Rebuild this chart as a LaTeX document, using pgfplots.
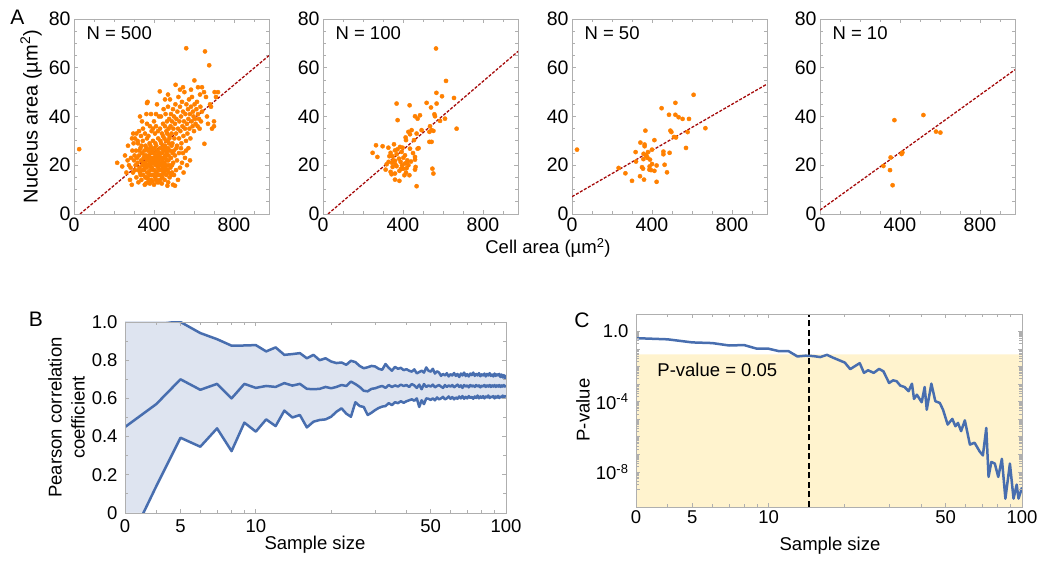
\documentclass[border=0pt]{standalone}
\usepackage{fontspec}
\setmainfont{Liberation Sans}
\usepackage{pgfplots}
\usepackage{pgfplotstable}
\pgfplotsset{compat=1.18}

\definecolor{dotorange}{RGB}{255,128,0}
\definecolor{fitred}{RGB}{165,10,10}
\definecolor{curveblue}{RGB}{72,110,175}
\definecolor{bandblue}{RGB}{222,228,240}
\definecolor{sigyellow}{RGB}{255,243,206}
\definecolor{framegray}{RGB}{175,175,175}

\newcommand{\tk}{\fontsize{19.5}{20}\selectfont}
\newcommand{\lb}{\fontsize{18.5}{23}\selectfont}

% Pearson r (median and band) against sample size
\pgfplotstableread{
n up mid lo
3 1.25 0.45 -0.20
4 1.02 0.57 0.14
5 1.00 0.70 0.394
6 0.942 0.645 0.347
7 0.91 0.676 0.443
8 0.876 0.60 0.324
9 0.877 0.676 0.473
10 0.879 0.655 0.426
11 0.846 0.665 0.49
12 0.867 0.66 0.455
13 0.828 0.68 0.536
14 0.832 0.667 0.50
15 0.837 0.676 0.513
16 0.81 0.65 0.448
17 0.828 0.648 0.478
18 0.80 0.65 0.487
19 0.81 0.66 0.49
20 0.793 0.653 0.504
21 0.785 0.66 0.53
22 0.788 0.67 0.548
23 0.776 0.665 0.52
24 0.797 0.688 0.504
25 0.79 0.675 0.58
26 0.77 0.66 0.56
27 0.758 0.64 0.555
28 0.763 0.637 0.513
29 0.77 0.65 0.525
30 0.767 0.653 0.539
31 0.755 0.66 0.55
32 0.75 0.665 0.557
33 0.78 0.655 0.56
34 0.76 0.67 0.575
35 0.745 0.66 0.565
36 0.765 0.668 0.58
37 0.755 0.662 0.575
38 0.76 0.672 0.585
39 0.748 0.665 0.577
40 0.753 0.67 0.585
41 0.745 0.66 0.59
42 0.74 0.675 0.595
43 0.752 0.668 0.588
44 0.731 0.655 0.60
45 0.738 0.672 0.555
46 0.745 0.648 0.59
47 0.735 0.675 0.57
48 0.762 0.66 0.60
49 0.745 0.668 0.598
50 0.74 0.662 0.592
51 0.755 0.672 0.60
52 0.73 0.658 0.59
53 0.742 0.665 0.605
54 0.735 0.67 0.595
55 0.718 0.662 0.60
56 0.728 0.655 0.608
57 0.72 0.67 0.595
58 0.732 0.66 0.60
59 0.715 0.668 0.61
60 0.727 0.662 0.598
61 0.72 0.67 0.607
62 0.733 0.658 0.595
63 0.718 0.665 0.605
64 0.728 0.672 0.598
65 0.712 0.66 0.61
66 0.73 0.668 0.60
67 0.72 0.655 0.612
68 0.735 0.67 0.598
69 0.717 0.662 0.608
70 0.727 0.668 0.60
71 0.715 0.658 0.612
72 0.73 0.67 0.602
73 0.722 0.662 0.608
74 0.735 0.668 0.598
75 0.718 0.66 0.61
76 0.728 0.67 0.602
77 0.72 0.662 0.615
78 0.732 0.668 0.60
79 0.716 0.658 0.61
80 0.726 0.667 0.603
81 0.72 0.662 0.612
82 0.73 0.67 0.60
83 0.715 0.66 0.61
84 0.728 0.668 0.605
85 0.72 0.662 0.615
86 0.732 0.67 0.602
87 0.718 0.66 0.61
88 0.725 0.668 0.605
89 0.715 0.662 0.612
90 0.73 0.67 0.60
91 0.718 0.66 0.61
92 0.726 0.668 0.604
93 0.72 0.662 0.613
94 0.728 0.67 0.602
95 0.712 0.66 0.61
96 0.725 0.668 0.606
97 0.71 0.662 0.615
98 0.722 0.67 0.604
99 0.706 0.662 0.612
100 0.722 0.668 0.607
}\pearson

% p-value against sample size
\pgfplotstableread{
n p
3 0.42
4 0.36
5 0.24
6 0.22
7 0.16
8 0.17
9 0.105
10 0.105
11 0.076
12 0.076
13 0.038
14 0.042
15 0.040
16 0.035
17 0.047
18 0.032
20 0.017
21 0.0072
22 0.011
22.9 0.0158
23.8 0.0044
24.7 0.0062
26.0 0.0044
27.3 0.0074
28.4 0.0054
29.9 0.00117
31.0 0.00166
32.0 0.00148
33.1 8.3e-4
34.4 6.9e-4
35.7 4.0e-4
36.8 1.07e-3
37.5 1.45e-4
38.5 2.5e-4
40.2 9.3e-5
41.3 6.9e-4
42.1 3.5e-5
43.9 1.07e-3
45.5 1.07e-4
47.4 8.5e-5
48.8 3.5e-5
50.9 5.0e-6
53.1 1.05e-5
54.6 4.0e-6
55.9 6.2e-6
57.5 2.1e-6
59.5 8.7e-6
62.3 3.6e-7
65.0 4.6e-7
68.0 1.5e-7
70.1 8.7e-8
72.3 3.2e-6
73.8 5.2e-9
75.7 3.7e-8
78.1 3.0e-8
80.6 5.2e-9
83.3 5.6e-8
86.0 3.0e-10
89.6 3.0e-8
92.6 3.0e-10
95.3 1.9e-9
96.9 3.0e-10
100 1.3e-9
}\pvalue

\pgfplotsset{
  boxed/.style={scale only axis, anchor=south west, tick align=inside,
    axis line style={framegray, line width=0.9pt},
    tick style={framegray, line width=0.8pt},
    major tick length=4pt, minor tick length=2.6pt,
    ticklabel style={text=black}},
  scat/.style={boxed, width=195pt, height=195pt,
    xmin=0, xmax=975, ymin=0, ymax=80,
    xtick={0,400,800}, xticklabels={0,400,800},
    minor xtick={100,200,300,500,600,700,900},
    ytick={0,20,40,60,80}, yticklabels={0,20,40,60,80},
    minor ytick={5,10,15,25,30,35,45,50,55,65,70,75},
    ticklabel style={font=\tk}},
  cellpts/.style={only marks, mark=*, mark size=2.1pt, color=dotorange},
  fit/.style={fitred, line width=1.3pt, dash pattern=on 3pt off 1.6pt},
  sizeaxis/.style={boxed, xmin=3, xmax=100,
    xtick={3,5,10,50,100}, xticklabels={0,5,10,50,100},
    minor xtick={4,6,7,8,9,20,30,40,60,70,80,90},
    ticklabel style={font=\lb},
    yticklabel style={xshift=-4pt}, axis on top},
}

\begin{document}
\begin{tikzpicture}
\path[use as bounding box] (0,0) rectangle (1050pt,561pt);

% ---------- A: N = 500 ----------
\begin{axis}[scat, at={(74pt,347pt)}]
\addplot[cellpts] coordinates {
(26,26.6) (561,68) (655,66.7) (676,61) (703,50) (602,54.8) (620,52) (508,53) (429,50.3) (365,45.5) (652,28.8)
(700,38) (690,35) (680,45) (665,40) (710,48) (720,50) (660,48) (650,50) (640,52) (630,49) (585,51) (545,52)
(470,49) (455,47) (530,51) (700,36) (685,44) (670,37)
(300,22) (305,18) (310,26) (312,15) (318,21) (320,29) (322,13) (325,24) (328,19) (330,17) (332,27) (335,22)
(337,14) (340,25) (342,20) (344,30) (346,16) (348,23) (350,18) (352,26) (354,12) (356,21) (358,28) (360,15)
(361,24) (363,19) (365,31) (366,17) (368,22) (370,26) (371,13) (373,20) (375,24) (376,16) (378,29) (380,21)
(381,18) (383,25) (385,14) (386,22) (388,27) (390,19) (391,23) (393,16) (395,30) (396,21) (398,25) (400,12)
(401,18) (403,27) (405,22) (406,15) (408,24) (410,20) (411,28) (413,17) (415,23) (416,13) (418,26) (420,19)
(421,31) (423,22) (425,16) (426,25) (428,20) (430,14) (431,27) (433,23) (435,18) (436,29) (438,21) (440,25)
(441,15) (443,19) (445,32) (446,23) (448,17) (450,26) (451,21) (453,14) (455,28) (456,24) (458,19) (460,30)
(461,16) (463,25) (465,22) (466,33) (468,18) (470,27) (471,13) (473,24) (475,29) (476,20) (478,15) (480,26)
(303,24) (308,20) (315,23) (323,18) (327,26) (333,16) (338,28) (343,18) (347,21) (353,24) (357,15) (362,27)
(367,20) (372,17) (377,23) (382,28) (387,16) (392,26) (397,18) (402,23) (407,29) (412,14) (417,21) (422,24)
(427,18) (432,30) (437,16) (442,22) (447,28) (452,18) (457,23) (462,20) (467,26) (472,22) (477,31) (482,19)
(485,23) (488,28) (490,17) (493,25) (496,21)
(384,19.5) (374,26.5) (364,22.5) (354,19.5) (394,13.5) (404,20.5) (414,25.5) (424,13) (434,20.5) (444,26.5)
(454,16.5) (464,18) (474,17) (359,12.5) (369,14.5) (379,12.5) (389,21) (399,16) (409,17.5) (419,16) (429,23.5)
(439,12.5) (449,20) (459,27)
(216,21) (241,19.5) (255,24) (262,17) (270,28) (275,20) (280,14) (285,23) (289,12) (292,26) (295,17) (298,29)
(283,19) (268,22) (290,31)
(430,35) (435,40) (440,33) (445,37) (448,43) (452,31) (455,36) (458,41) (462,34) (465,38) (468,30) (470,44)
(473,35) (476,39) (478,32) (480,47) (483,36) (485,41) (488,33) (490,38) (492,29) (495,43) (497,35) (500,40)
(502,31) (505,37) (507,45) (510,33) (512,39) (515,28) (517,42) (520,35) (522,48) (525,31) (527,38) (530,44)
(532,34) (535,40) (537,29) (540,46) (542,36) (545,42) (547,32) (550,38) (552,50) (555,35) (557,41) (560,30)
(562,45) (565,37) (567,33) (570,43) (572,39) (575,47) (577,35) (580,41) (582,31) (585,44) (588,38) (590,48)
(593,36) (595,42) (598,40) (600,34) (603,45) (605,39) (608,37) (612,43) (615,46) (618,36) (620,41) (625,39)
(628,35) (632,44) (635,38) (640,42)
(395,35) (400,38) (405,33) (410,36) (415,45) (420,34) (425,40) (388,34) (380,36) (372,32) (365,37) (355,33)
(345,35) (340,38) (362,41) (385,41) (410,41) (368,46) (335,32) (325,34) (318,30) (312,33) (305,31) (296,33) (330,40)
(490,20) (500,16) (505,24) (510,18) (515,22) (520,14) (530,19) (540,21) (548,17) (555,23) (565,20) (572,27)
(580,22) (495,12) (500,26) (512,27) (525,25) (535,27) (545,25) (560,26) (485,16) (505,11.6) (467,11.6)
};
\addplot[fit] coordinates {(30,0) (975,65)};
\node[anchor=west, font=\lb] at (axis cs:45,74.3) {N = 500};
\end{axis}

% ---------- A: N = 100 ----------
\begin{axis}[scat, at={(323pt,347pt)}]
\addplot[cellpts] coordinates {
(565,67.9) (615,54.6) (567,49.7) (595,48.3) (655,47.6) (668,35.0) (368,45.3) (433,44.6) (518,45.6) (540,43.7)
(568,45.3) (485,40.5) (460,40.1) (473,39.1) (557,40.9) (560,40.1) (610,39.1) (585,38.2) (373,38.5) (535,36.0)
(543,34.4) (552,34.1) (532,33.7) (493,34.4) (443,34.4) (427,33.7) (435,32.7) (468,33.0) (413,31.4) (415,30.3)
(455,30.3) (532,29.6) (543,29.6) (265,28.2) (298,27.8) (327,27.2) (355,28.6) (385,27.5) (435,26.8) (473,26.8)
(478,27.0) (248,25.1) (272,23.4) (338,25.1) (360,26.1) (368,24.5) (393,25.5) (410,24.1) (332,23.7) (347,23.7)
(380,22.7) (402,23.1) (422,22.0) (460,23.4) (460,22.3) (318,20.4) (328,21.4) (360,21.8) (388,21.4) (410,20.7)
(427,20.0) (348,19.3) (368,19.6) (402,18.6) (463,19.3) (460,18.2) (547,18.6) (552,16.6) (338,17.3) (343,16.3)
(360,16.6) (382,17.7) (407,15.9) (432,15.9) (360,14.1) (382,13.6) (468,11.4) (313,18.2) (390,18.5) (352,22.0)
(420,21.0) (398,27.2) (362,20.3) (418,18.8) (440,21.5) (372,26.5) (395,20.0) (345,21.0) (450,25.0) (415,17.0)
};
\addplot[fit] coordinates {(25,0) (975,66.7)};
\node[anchor=west, font=\lb] at (axis cs:45,74.3) {N = 100};
\end{axis}

% ---------- A: N = 50 ----------
\begin{axis}[scat, at={(572pt,347pt)}]
\addplot[cellpts] coordinates {
(25,26.4) (608,48.9) (517,45.6) (448,43.4) (485,40.7) (517,40.7) (533,39.7) (553,39.0) (585,39.0) (667,35.2)
(367,34.2) (492,34.2) (497,33.6) (510,31.6) (520,31.4) (578,33.6) (412,30.3) (342,29.3) (363,28.5) (363,27.8)
(400,26.4) (457,25.6) (457,24.5) (488,25.1) (570,27.1) (318,25.4) (358,24.7) (380,25.4) (370,23.8) (357,22.5)
(378,23.0) (390,22.3) (320,21.5) (233,18.9) (423,19.9) (388,19.5) (463,20.2) (355,18.6) (387,18.2) (412,17.7)
(475,17.1) (267,16.7) (340,15.5) (300,13.6) (360,14.1) (423,13.2) (395,18.0) (372,24.0) (350,19.2) (400,20.5)
};
\addplot[fit] coordinates {(0,7.1) (975,53.3)};
\node[anchor=west, font=\lb] at (axis cs:45,74.3) {N = 50};
\end{axis}

% ---------- A: N = 10 ----------
\begin{axis}[scat, at={(820pt,347pt)}]
\addplot[cellpts] coordinates {
(372,38.5) (517,40.6) (580,33.8) (602,33.4) (408,24.6) (412,25.2) (353,23.2) (317,19.7) (350,18.0) (363,11.8)
};
\addplot[fit] coordinates {(0,1.6) (975,59.2)};
\node[anchor=west, font=\lb] at (axis cs:45,74.3) {N = 10};
\end{axis}

% ---------- B ----------
\begin{axis}[xmode=log, sizeaxis, at={(125pt,48pt)}, width=381pt, height=191pt,
  ymin=0, ymax=1,
  ytick={0,0.2,0.4,0.6,0.8,1}, yticklabels={0,0.2,0.4,0.6,0.8,1.0},
  minor ytick={0.1,0.3,0.5,0.7,0.9},
  xticklabel style={yshift=-3pt}]
% band: fill under the upper curve, then blank out below the lower one
\addplot[fill=bandblue, draw=none] table[x=n, y=up] {\pearson} \closedcycle;
\addplot[fill=white, draw=none] table[x=n, y=lo] {\pearson} \closedcycle;
\addplot[curveblue, line width=2.5pt, line join=round] table[x=n, y=up] {\pearson};
\addplot[curveblue, line width=2.5pt, line join=round] table[x=n, y=mid] {\pearson};
\addplot[curveblue, line width=2.5pt, line join=round] table[x=n, y=lo] {\pearson};
\end{axis}

% ---------- C ----------
\begin{axis}[xmode=log, ymode=log, sizeaxis, at={(636pt,54pt)}, width=386pt, height=193pt,
  ymin=1e-10, ymax=10,
  ytick={1e-9,1e-8,1e-7,1e-6,1e-5,1e-4,1e-3,1e-2,1e-1,1},
  yticklabels={,10\textsuperscript{-8},,,,10\textsuperscript{-4},,,,1.0},
  minor ytick={}]
\addplot[fill=sigyellow, draw=none] coordinates {(3,1e-10) (3,0.05) (100,0.05) (100,1e-10) (3,1e-10)};
\addplot[black, line width=2pt, dash pattern=on 6pt off 3.5pt] coordinates {(14.4,1e-10) (14.4,10)};
\addplot[curveblue, line width=2.5pt, line join=round] table[x=n, y=p] {\pvalue};
\node[anchor=west, font=\lb] at (axis cs:3.53,6.6e-3) {P-value = 0.05};
\end{axis}

% ---------- labels ----------
\node[font=\fontsize{21}{21}\selectfont] at (17.5pt,543.5pt) {A};
\node[font=\fontsize{21}{21}\selectfont] at (36pt,241.5pt) {B};
\node[font=\fontsize{21}{21}\selectfont] at (582pt,241pt) {C};
\node[font=\fontsize{20}{23}\selectfont, rotate=90] at (31pt,444.5pt) {Nucleus area (µm\textsuperscript{2})};
\node[font=\lb] at (548pt,313pt) {Cell area (µm\textsuperscript{2})};
\node[font=\lb, rotate=90, align=center] at (66.5pt,143.5pt) {Pearson correlation\\coefficient};
\node[font=\lb] at (315pt,16pt) {Sample size};
\node[font=\lb, rotate=90] at (583pt,151pt) {P-value};
\node[font=\lb] at (830pt,15pt) {Sample size};
\end{tikzpicture}
\end{document}
